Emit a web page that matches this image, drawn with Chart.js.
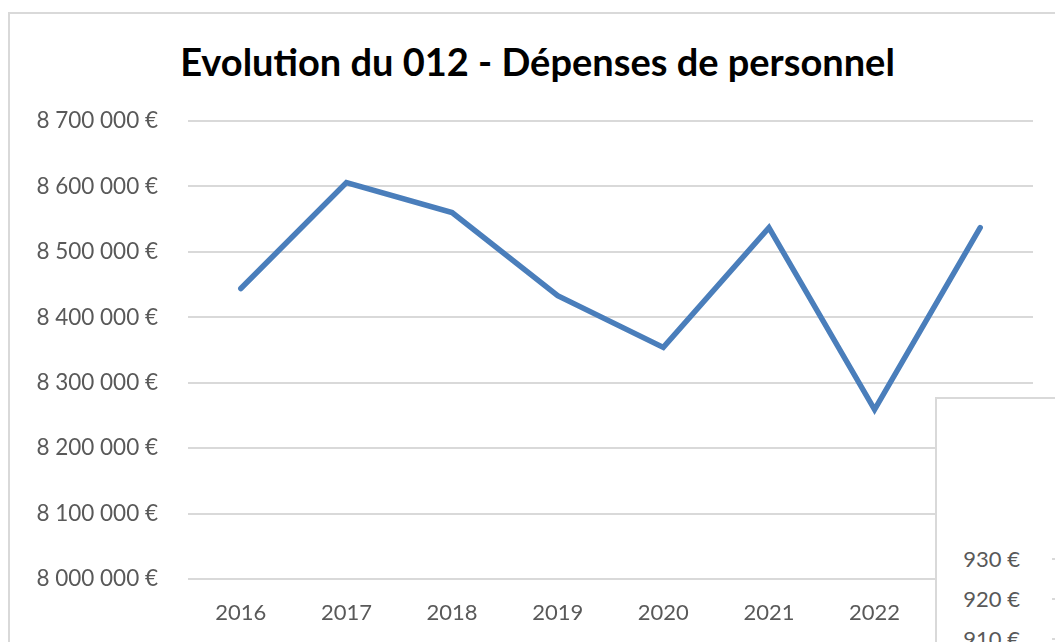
<!DOCTYPE html>
<html>
<head>
<meta charset="utf-8">
<script src="https://cdn.jsdelivr.net/npm/chart.js@4"></script>
<style>
  html, body { margin: 0; padding: 0; background: #fff; overflow: hidden; width: 1055px; height: 642px; }
  #cadre { position: absolute; left: 8px; top: 12px; width: 1200px; height: 700px; border-left: 2px solid #d9d9d9; border-top: 2px solid #d9d9d9; }
  #titre { position: absolute; left: 0; top: 38px; width: 1075px; text-align: center; font-family: Lato, sans-serif;
           font-weight: bold; font-size: 38px; line-height: 46px; color: #000; }
  #wrap { position: absolute; left: 0; top: 0; width: 1055px; height: 642px; }
  #autre { position: absolute; left: 935px; top: 397px; width: 300px; height: 400px; background: #fff;
           border-left: 2px solid #d9d9d9; border-top: 2px solid #d9d9d9; font-family: Lato, sans-serif; color: #595959; font-size: 22px; }
  .lbl { position: absolute; left: 0; width: 83px; text-align: right; line-height: 26px; }
  .stub { position: absolute; left: 115px; width: 10px; height: 2px; background: #d9d9d9; }
</style>
</head>
<body>
<div id="cadre"></div>
<div id="titre">Evolution du 012 - Dépenses de personnel</div>
<div id="wrap"><canvas id="myChart"></canvas></div>
<div id="autre"></div>
<script>
// Données du graphique
var annees = ['2016', '2017', '2018', '2019', '2020', '2021', '2022', '2023'];
var depenses = [8444000, 8606000, 8560000, 8433000, 8354000, 8537000, 8259000, 8537000];

// Etiquettes du graphique voisin (coupé)
var autresLabels = ['930 €', '920 €', '910 €'];

function formatEuro(v) {
  return v.toString().replace(/\B(?=(\d{3})+(?!\d))/g, '\u202f') + '\u00a0€';
}

var ctx = document.getElementById('myChart').getContext('2d');
var chart = new Chart(ctx, {
  type: 'line',
  data: {
    labels: annees,
    datasets: [{
      label: 'Dépenses de personnel',
      data: depenses,
      borderColor: '#4a7ebb',
      borderWidth: 5.5,
      borderCapStyle: 'round',
      pointRadius: 0,
      fill: false,
      tension: 0
    }]
  },
  options: {
    responsive: true,
    maintainAspectRatio: false,
    animation: false,
    layout: { padding: { top: 121, right: 22, bottom: 0, left: 0 } },
    plugins: {
      legend: { display: false },
      tooltip: { enabled: false },
      title: { display: false }
    },
    scales: {
      x: {
        offset: true,
        grid: { display: false },
        border: { display: false },
        ticks: { color: '#595959', font: { family: 'Lato', size: 22 }, padding: 13 },
        afterFit: function(scale) { scale.height = 63; }
      },
      y: {
        min: 8000000,
        max: 8700000,
        border: { display: false },
        grid: { color: '#d9d9d9', lineWidth: 2, drawTicks: false },
        ticks: {
          stepSize: 100000,
          color: '#595959',
          font: { family: 'Lato', size: 22.5 },
          padding: 30,
          callback: function(v) { return formatEuro(v); }
        },
        afterFit: function(scale) { scale.width = 188; }
      }
    }
  }
});

// Graphique voisin qui recouvre le coin
var autre = document.getElementById('autre');
for (var i = 0; i < autresLabels.length; i++) {
  var y = 160 + i * 40;
  var d = document.createElement('div');
  d.className = 'lbl';
  d.style.top = (y - 13) + 'px';
  d.textContent = autresLabels[i];
  autre.appendChild(d);
  var s = document.createElement('div');
  s.className = 'stub';
  s.style.top = (y - 1) + 'px';
  autre.appendChild(s);
}
</script>
</body>
</html>
